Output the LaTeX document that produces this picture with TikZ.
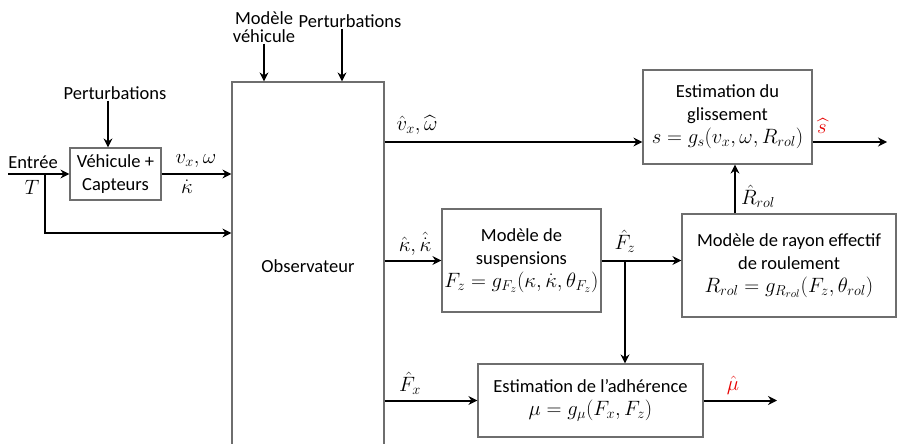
\documentclass[tikz,border=0pt]{standalone}
\usepackage{amsmath}
\usepackage{fontspec}
\setmainfont{Carlito}
\usepackage{xcolor}
\usepackage{tikz}
\usetikzlibrary{arrows.meta,positioning}
\definecolor{boxgray}{RGB}{110,110,110}
\definecolor{outred}{RGB}{230,0,0}
\newcommand{\mth}[1]{{\fontsize{22}{23}\selectfont$#1$}}

\begin{document}
\begin{tikzpicture}[x=1pt,y=-1pt, every node/.style={font=\fontsize{18.5}{23}\selectfont}, box/.style={draw=boxgray,line width=1.2pt,align=center,inner sep=0pt}, arr/.style={-{Stealth[length=9pt,width=9pt,inset=3pt]},line width=2pt}, lbl/.style={inner sep=1pt,align=center}]
\useasboundingbox (0,0) rectangle (902,444);
% blocks
\node[box,minimum width=91pt,minimum height=52pt] (veh) at (115.5,174) {Véhicule +\\Capteurs};
\node[box,minimum width=152pt,minimum height=368pt] (obs) at (308,266) {Observateur};
\node[box,minimum width=169pt,minimum height=94pt] (gliss) at (727.5,117) {Estimation du\\glissement\\\mth{s=g_s(v_x,\omega,R_{rol})}};
\node[box,minimum width=159pt,minimum height=103pt] (susp) at (521.5,260.5) {Modèle de\\suspensions\\\mth{F_z=g_{F_z}(\kappa,\dot\kappa,\theta_{F_z})}};
\node[box,minimum width=214pt,minimum height=103pt] (rayon) at (789,265.5) {Modèle de rayon effectif\\de roulement\\\mth{R_{rol}=g_{R_{rol}}(F_z,\theta_{rol})}};
\node[box,minimum width=225pt,minimum height=73pt] (adher) at (590.5,400.5) {Estimation de l’adhérence\\\mth{\mu=g_{\mu}(F_x,F_z)}};
% inputs
\node[lbl] (pert1) at (115,93) {Perturbations};
\node[lbl,font=\fontsize{18.5}{18}\selectfont] (modveh) at (264,27) {Modèle\\véhicule};
\node[lbl] (pert2) at (350,21) {Perturbations};
\node[lbl] (entree) at (33,162) {Entrée};
\node[lbl] (tin) at (32,187) {\mth{T}};
\coordinate (in) at (8,174);
\coordinate (br) at (45,174);
\coordinate (out1) at (887,142);
\coordinate (out2) at (777,400.5);
% signal labels
\node[lbl] (lvw) at (196,161) {\mth{v_x,\omega}};
\node[lbl] (lkd) at (187,187) {\mth{\dot\kappa}};
\node[lbl] (lvwh) at (417,125) {\mth{\hat v_x,\widehat\omega}};
\node[lbl,text=outred] (lsh) at (822,126) {\mth{\widehat{s}}};
\node[lbl] (lrr) at (758,196) {\mth{\hat R_{rol}}};
\node[lbl] (lkk) at (415,244) {\mth{\hat\kappa,\hat{\dot\kappa}}};
\node[lbl] (lfz) at (625,241) {\mth{\hat F_z}};
\node[lbl] (lfx) at (410,383) {\mth{\hat F_x}};
\node[lbl,text=outred] (lmu) at (733,385) {\mth{\hat\mu}};
% connectors
\draw[arr] (pert1.south -| 108,0) -- (veh.north -| 108,0);
\draw[arr] (modveh.south) -- (modveh.south |- obs.north);
\draw[arr] (pert2.south -| 342,0) -- (obs.north -| 342,0);
\draw[arr] (in) -- (in -| veh.west);
\draw[arr] (br) |- (obs.west |- 0,233);
\draw[arr] (veh.east) -- (veh.east -| obs.west);
\draw[arr] (obs.east |- 0,142) -- (gliss.west |- 0,142);
\draw[arr] (gliss.east |- out1) -- (out1);
\draw[arr] (rayon.north -| 735,0) -- (gliss.south -| 735,0);
\draw[arr] (obs.east |- susp.west) -- (susp.west);
\draw[arr] (susp.east) -- (susp.east -| rayon.west);
\draw[arr] (susp.east -| 625,0) -- (adher.north -| 625,0);
\draw[arr] (obs.east |- adher.west) -- (adher.west);
\draw[arr] (adher.east) -- (out2);
\end{tikzpicture}
\end{document}
